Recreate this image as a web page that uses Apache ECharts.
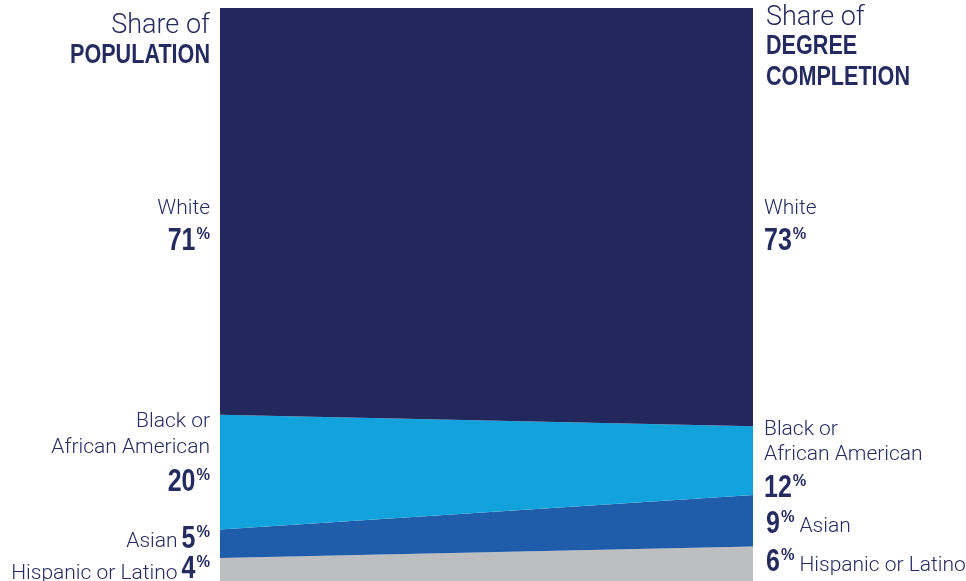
<!DOCTYPE html>
<html>
<head>
<meta charset="utf-8">
<script src="https://cdn.jsdelivr.net/npm/echarts@6/dist/echarts.min.js"></script>
<style>
html,body{margin:0;padding:0;background:#fff;}
#chart{width:966px;height:581px;}
</style>
</head>
<body>
<div id="chart"></div>
<script>
// ---- data ----
const categories = ['POPULATION', 'DEGREE COMPLETION'];
const groupNames = ['Hispanic or Latino', 'Asian', 'Black or African American', 'White'];
const hispanic = [4, 6];
const asian = [5, 9];
const black = [20, 12];
const white = [71, 73];

// ---- style ----
const colors = ['#bcbec0', '#1f5ca9', '#13a3dc', '#22285c'];
const textColor = '#252b5f';
const lightFont = 'Roboto';
const boldFont = '"Liberation Sans"';
const LIGHT = 21, HEAD = 27, BOLDH = 27, NUM = 32, PCT = 16;
const SX = 0.8, NSX = 0.78, PSX = 0.95;
const LOFF = 2; // light text vertical tweak

const ctx = document.createElement('canvas').getContext('2d');
function measure(text, font) { ctx.font = font; return ctx.measureText(text).width; }
const lightCss = s => '300 ' + s + 'px ' + lightFont;
const boldCss = s => 'bold ' + s + 'px ' + boldFont;

function light(x, y, text, align, size) {
  return {type: 'text', x: x, y: y + LOFF, silent: true,
    style: {text: text, font: lightCss(size || LIGHT), fill: textColor, align: align, verticalAlign: 'middle'}};
}
function bold(x, y, text, align, size, sx) {
  return {type: 'text', x: x, y: y, scaleX: sx, silent: true,
    style: {text: text, font: boldCss(size), fill: textColor, align: align, verticalAlign: 'middle'}};
}
// number with superscript %, y = digit centre. side 'L' => right edge at x, 'R' => left edge at x
function pctNumber(x, y, v, side) {
  const pw = measure('%', boldCss(PCT)) * PSX;
  const nw = measure(String(v), boldCss(NUM)) * NSX;
  const els = [];
  if (side === 'L') {
    els.push(bold(x, y - 6, '%', 'right', PCT, PSX));
    els.push(bold(x - pw - 1, y, String(v), 'right', NUM, NSX));
    return {els: els, left: x - pw - 1 - nw, right: x};
  }
  els.push(bold(x, y, String(v), 'left', NUM, NSX));
  els.push(bold(x + nw + 1, y - 6, '%', 'left', PCT, PSX));
  return {els: els, left: x, right: x + nw + 1 + pw};
}

const chart = echarts.init(document.getElementById('chart'), null, {renderer: 'canvas'});

const seriesData = [hispanic, asian, black, white];
const series = seriesData.map((d, i) => ({
  name: groupNames[i],
  type: 'line',
  stack: 'total',
  data: d,
  symbol: 'none',
  lineStyle: {width: 0},
  areaStyle: {color: colors[i], opacity: 1},
  silent: true
}));

const LX = 210, RX = 765;
const blackLines = groupNames[2].replace(' or ', ' or\n').split('\n');
let g = [];
// headers
g.push(light(LX, 24, 'Share of', 'right', HEAD));
g.push(bold(LX, 56, categories[0], 'right', BOLDH, SX));
g.push(light(RX + 1, 16, 'Share of', 'left', HEAD));
const rightHead = categories[1].split(' ');
g.push(bold(RX + 1, 47, rightHead[0], 'left', BOLDH, SX));
g.push(bold(RX + 1, 78, rightHead[1], 'left', BOLDH, SX));
// White
g.push(light(LX, 207, groupNames[3], 'right'));
g = g.concat(pctNumber(LX, 241, white[0], 'L').els);
g.push(light(RX - 1, 207, groupNames[3], 'left'));
g = g.concat(pctNumber(RX - 1, 241, white[1], 'R').els);
// Black
g.push(light(LX, 420, blackLines[0], 'right'));
g.push(light(LX, 446, blackLines[1], 'right'));
g = g.concat(pctNumber(LX, 482, black[0], 'L').els);
g.push(light(RX - 1, 428, blackLines[0], 'left'));
g.push(light(RX - 1, 453, blackLines[1], 'left'));
g = g.concat(pctNumber(RX - 1, 488, black[1], 'R').els);
// Asian
let p = pctNumber(LX, 539, asian[0], 'L');
g = g.concat(p.els);
g.push(light(p.left - 4, 540, groupNames[1], 'right'));
p = pctNumber(RX + 1, 524, asian[1], 'R');
g = g.concat(p.els);
g.push(light(p.right + 5, 525, groupNames[1], 'left'));
// Hispanic
p = pctNumber(LX, 569, hispanic[0], 'L');
g = g.concat(p.els);
g.push(light(p.left - 4, 572, groupNames[0], 'right'));
p = pctNumber(RX + 1, 562, hispanic[1], 'R');
g = g.concat(p.els);
g.push(light(p.right + 5, 564, groupNames[0], 'left'));

chart.setOption({
  animation: false,
  grid: {left: 220, right: 213, top: 8, bottom: 0},
  xAxis: {type: 'category', data: categories, boundaryGap: false, show: false},
  yAxis: {type: 'value', min: 0, max: 100, show: false},
  series: series,
  graphic: g
});
</script>
</body>
</html>
